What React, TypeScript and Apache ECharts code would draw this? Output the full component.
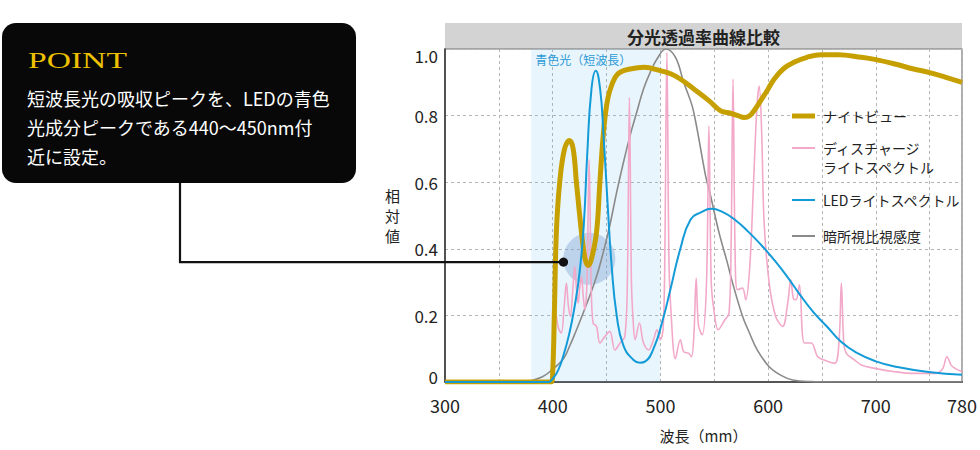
import React, { useEffect, useRef } from 'react';
import * as echarts from 'echarts';

// ---- data (wavelength nm / relative value) ----
const nightViewWl = [300, 398.5, 400, 401.5, 403.4, 406.5, 411, 415.5, 419, 422, 426.7, 430, 433, 436, 440.7, 443.8, 447, 450, 453, 458, 462.5, 472, 485, 500, 510, 518.5, 531, 545, 556, 565, 572, 577.7, 583, 588, 593, 600, 605.7, 614, 624, 636, 649, 665, 686.6, 700, 717.7, 735, 749, 765, 780];
const nightViewVal = [0, 0, 0.03, 0.2, 0.45, 0.6, 0.7, 0.725, 0.7, 0.6, 0.45, 0.37, 0.35, 0.37, 0.45, 0.6, 0.745, 0.83, 0.875, 0.915, 0.93, 0.94, 0.945, 0.935, 0.925, 0.91, 0.88, 0.845, 0.814, 0.807, 0.8, 0.794, 0.8, 0.82, 0.844, 0.88, 0.91, 0.94, 0.96, 0.975, 0.983, 0.983, 0.975, 0.968, 0.955, 0.94, 0.93, 0.915, 0.9];

const dischargeWl = [403, 405.5, 408, 410.5, 412.7, 414.5, 416.4, 418.5, 420.5, 422, 423.6, 425, 426.7, 428.3, 429.8, 431.8, 433.8, 435.8, 437.5, 440.7, 443.8, 448.5, 453, 457.8, 462.5, 467, 469.3, 471.2, 473.1, 474.8, 476.5, 480.5, 484.3, 489, 493.6, 496.8, 500, 502.5, 504, 506, 508, 510, 513.9, 518.5, 521.6, 526.3, 528.8, 531.2, 533.2, 535.3, 538.8, 542.8, 545, 547.2, 549.6, 553.7, 559.9, 563.7, 565.6, 567.4, 569.3, 571.5, 576.2, 579.2, 583, 586.5, 589.5, 591.7, 594, 596.3, 601, 607, 613.5, 618.2, 621, 623.5, 626, 629, 633.7, 640, 646, 652, 661.7, 665.8, 668, 670.2, 672.6, 680.4, 686.6, 699, 717.7, 736, 755, 762, 766, 770, 773.5, 780];
const dischargeVal = [0.207, 0.16, 0.147, 0.22, 0.297, 0.23, 0.197, 0.27, 0.347, 0.28, 0.237, 0.28, 0.317, 0.26, 0.217, 0.3, 0.669, 0.28, 0.177, 0.167, 0.117, 0.137, 0.152, 0.096, 0.117, 0.137, 0.3, 0.854, 0.3, 0.177, 0.127, 0.177, 0.117, 0.096, 0.127, 0.157, 0.127, 0.16, 0.35, 0.99, 0.35, 0.2, 0.07, 0.127, 0.091, 0.086, 0.076, 0.15, 0.312, 0.17, 0.142, 0.3, 0.769, 0.3, 0.217, 0.157, 0.187, 0.207, 0.4, 0.91, 0.4, 0.277, 0.282, 0.247, 0.35, 0.6, 0.82, 0.889, 0.75, 0.478, 0.297, 0.197, 0.167, 0.237, 0.307, 0.25, 0.247, 0.292, 0.117, 0.117, 0.076, 0.066, 0.056, 0.12, 0.297, 0.12, 0.086, 0.066, 0.051, 0.041, 0.031, 0.026, 0.026, 0.04, 0.076, 0.05, 0.041, 0.031];

const ledWl = [300, 396, 400, 405, 410, 415, 420, 425, 429, 432, 436, 440, 444, 447, 450.7, 454.7, 459.4, 465.6, 475, 481, 486, 493.6, 501.4, 509.2, 518.5, 528, 538, 547, 558, 570, 582, 594, 606, 618, 630, 642, 655, 668, 682, 700, 720, 749, 780];
const ledVal = [0, 0, 0.01, 0.035, 0.08, 0.14, 0.22, 0.33, 0.48, 0.68, 0.88, 0.935, 0.88, 0.75, 0.55, 0.35, 0.2, 0.11, 0.066, 0.058, 0.062, 0.1, 0.177, 0.277, 0.4, 0.488, 0.51, 0.52, 0.51, 0.485, 0.45, 0.41, 0.365, 0.315, 0.26, 0.21, 0.165, 0.12, 0.088, 0.062, 0.045, 0.03, 0.022];

const scotopicWl = [300, 372, 380, 390, 397, 410, 416, 420, 431, 440, 447, 453, 459.4, 465, 471.8, 478, 484.3, 490.5, 496.8, 505, 514, 521.6, 529.4, 534, 541.9, 546.5, 554.3, 562, 566.8, 576, 582.3, 590, 601, 612, 622.8, 640, 660, 780];
const scotopicVal = [0, 0, 0.004, 0.015, 0.03, 0.07, 0.11, 0.14, 0.23, 0.31, 0.39, 0.47, 0.57, 0.65, 0.74, 0.81, 0.88, 0.93, 0.97, 1.0, 0.975, 0.9, 0.83, 0.76, 0.62, 0.56, 0.45, 0.36, 0.3, 0.2, 0.15, 0.096, 0.046, 0.02, 0.006, 0.001, 0, 0];

const blueBand = [380, 500];
const xTickLabels = [300, 400, 500, 600, 700, 780];
const yTickLabels = ['0', '0.2', '0.4', '0.6', '0.8', '1.0'];
const focusDot = [410, 0.36];
const focusCircle = [434, 0.37];

const seriesNames = ['ナイトビュー', 'ディスチャージ\nライトスペクトル', 'LEDライトスペクトル', '暗所視比視感度'];

const FONT = '"Noto Sans CJK JP", "Noto Sans", sans-serif';
const C_GOLD = '#c6a000';
const C_PINK = '#f2a9c9';
const C_BLUE = '#139bd8';
const C_GRAY = '#8a8a8a';

const zip = (a: number[], b: number[]) => a.map((x, i) => [x, b[i]]);

export default function App() {
  const ref = useRef<HTMLDivElement>(null);
  useEffect(() => {
    const chart = echarts.init(ref.current!, null, { renderer: 'svg', width: 980, height: 450 });
    const gridLeft = 445, gridRight = 18, gridTop = 49, gridBottom = 68;
    chart.setOption({
      animation: false,
      textStyle: { fontFamily: FONT },
      grid: { left: gridLeft, right: gridRight, top: gridTop, bottom: gridBottom, show: true, borderColor: '#777', borderWidth: 1.2, backgroundColor: 'transparent' },
      xAxis: {
        type: 'value', min: 300, max: 780, interval: 50,
        name: '波長（mm）', nameLocation: 'middle', nameGap: 46,
        nameTextStyle: { fontSize: 15, color: '#222', fontFamily: FONT },
        axisLine: { lineStyle: { color: '#555', width: 2 } },
        axisTick: { show: false },
        axisLabel: {
          fontSize: 18, color: '#222', margin: 14, showMaxLabel: true, showMinLabel: true,
          formatter: (v: number) => (xTickLabels.indexOf(Math.round(v)) >= 0 ? String(Math.round(v)) : ''),
        },
        splitLine: { show: true, lineStyle: { color: '#b5b5b5', type: [3, 3], width: 1 } },
      },
      yAxis: {
        type: 'value', min: 0, max: 1, interval: 0.2,
        name: '相\n対\n値', nameLocation: 'middle', nameRotate: 0, nameGap: 45,
        nameTextStyle: { fontSize: 15, color: '#222', lineHeight: 20, fontFamily: FONT },
        axisLine: { show: true, lineStyle: { color: '#333', width: 1.5 } },
        axisTick: { show: false },
        axisLabel: {
          fontSize: 17, color: '#222', margin: 7,
          formatter: (v: number) => {
            const i = Math.round(v * 5);
            const s = yTickLabels[i];
            if (i === 5) return '{t|' + s + '}';
            if (i === 0) return '{b|' + s + '}';
            return s;
          },
          rich: {
            t: { padding: [13, 0, 0, 0], fontSize: 17, color: '#222' },
            b: { padding: [0, 0, 11, 0], fontSize: 17, color: '#222' },
          },
        },
        splitLine: { show: true, lineStyle: { color: '#b5b5b5', type: [3, 3], width: 1 } },
      },
      series: [
        {
          type: 'line', name: 'band', data: [], silent: true,
          markArea: {
            silent: true,
            itemStyle: { color: 'rgba(110,190,235,0.15)' },
            label: { show: true, position: 'insideTopLeft', distance: 4, color: '#2b9ad6', fontSize: 12, fontFamily: FONT },
            data: [[{ name: '青色光（短波長）', xAxis: blueBand[0] }, { xAxis: blueBand[1] }]],
          },
        },
        {
          type: 'line', name: seriesNames[3], data: zip(scotopicWl, scotopicVal), showSymbol: false, smooth: 0.4,
          lineStyle: { color: C_GRAY, width: 1.6 }, z: 3,
        },
        {
          type: 'line', name: seriesNames[1], data: zip(dischargeWl, dischargeVal), showSymbol: false, smooth: 0.35,
          lineStyle: { color: C_PINK, width: 1.6 }, z: 4,
        },
        {
          type: 'line', name: seriesNames[0], data: zip(nightViewWl, nightViewVal), showSymbol: false, smooth: 0.4,
          lineStyle: { color: C_GOLD, width: 5 }, z: 5,
        },
        {
          type: 'line', name: seriesNames[2], data: zip(ledWl, ledVal), showSymbol: false, smooth: 0.5,
          lineStyle: { color: C_BLUE, width: 2 }, z: 6,
        },
      ],
    });

    const dot = chart.convertToPixel({ gridIndex: 0 }, focusDot) as number[];
    const circ = chart.convertToPixel({ gridIndex: 0 }, focusCircle) as number[];
    const right = 980 - gridRight;
    const lgX1 = 792, lgX2 = 815, lgTx = 823;
    const legendRows = [
      { y: 116, color: C_GOLD, w: 5, ty: 116 },
      { y: 148, color: C_PINK, w: 2, ty: 157.5 },
      { y: 200, color: C_BLUE, w: 2, ty: 200 },
      { y: 236, color: C_GRAY, w: 2, ty: 236 },
    ];
    const graphic: any[] = [
      { type: 'rect', shape: { x: gridLeft, y: 23, width: right - gridLeft, height: gridTop - 23 }, style: { fill: '#d3d3d3' }, z: -10 },
      { type: 'text', x: (gridLeft + right) / 2, y: 36.5, style: { text: '分光透過率曲線比較', fill: '#222', font: 'bold 17px ' + FONT, align: 'center', verticalAlign: 'middle' } },
      { type: 'rect', shape: { x: 2, y: 23, width: 354, height: 160, r: 14 }, style: { fill: '#080808' }, z: 20 },
      { type: 'text', x: 28, y: 59.5, scaleX: 1.4, style: { text: 'POINT', fill: '#edc100', font: '24px "Liberation Serif", "DejaVu Serif", serif', align: 'left', verticalAlign: 'middle' }, z: 21 },
      { type: 'text', x: 27, y: 83, style: { text: '短波長光の吸収ピークを、LEDの青色\n光成分ピークである440～450nm付\n近に設定。', fill: '#ffffff', font: '18px ' + FONT, lineHeight: 29, align: 'left', verticalAlign: 'top' }, z: 21 },
      { type: 'polyline', shape: { points: [[180, 183], [180, dot[1]], [dot[0], dot[1]]] }, style: { stroke: '#111', lineWidth: 2.2, fill: null }, z: 30 },
      { type: 'circle', shape: { cx: dot[0], cy: dot[1], r: 4.6 }, style: { fill: '#111' }, z: 31 },
      { type: 'circle', shape: { cx: circ[0], cy: circ[1], r: 26 }, style: { fill: 'rgba(120,160,210,0.4)' }, z: 1 },
    ];
    legendRows.forEach((r, i) => {
      graphic.push({ type: 'line', shape: { x1: lgX1, y1: r.y, x2: lgX2, y2: r.y }, style: { stroke: r.color, lineWidth: r.w }, z: 10 });
      graphic.push({ type: 'text', x: lgTx, y: r.ty, style: { text: seriesNames[i], fill: '#222', font: '14px ' + FONT, lineHeight: 19, align: 'left', verticalAlign: 'middle' }, z: 10 });
    });
    chart.setOption({ graphic });

    return () => chart.dispose();
  }, []);
  return <div ref={ref} style={{ position: 'fixed', left: 0, top: 0, width: 980, height: 450, background: '#fff' }} />;
}
